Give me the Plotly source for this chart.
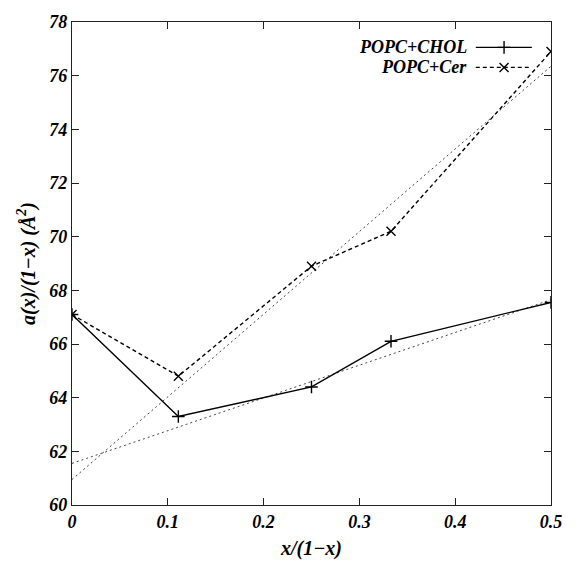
import plotly.graph_objects as go

# Data
x_vals = [0.0, 0.111, 0.25, 0.333, 0.5]
chol = [67.1, 63.3, 64.4, 66.1, 67.55]
cer = [67.1, 64.8, 68.9, 70.2, 76.9]
fit_x = [0.0, 0.5]
chol_fit = [61.55, 67.65]
cer_fit = [60.95, 76.35]
series_names = ["POPC+CHOL", "POPC+Cer"]

FONT = "Liberation Serif"

fig = go.Figure()

# fit lines
fig.add_trace(go.Scatter(x=fit_x, y=chol_fit, mode="lines",
                         line=dict(color="#444", width=1, dash="2px,3px"), showlegend=False))
fig.add_trace(go.Scatter(x=fit_x, y=cer_fit, mode="lines",
                         line=dict(color="#444", width=1, dash="2px,3px"), showlegend=False))

# data
fig.add_trace(go.Scatter(x=x_vals, y=chol, mode="lines+markers",
                         line=dict(color="black", width=1.4),
                         marker=dict(symbol="cross-thin", size=9, line=dict(color="black", width=1.4)),
                         showlegend=False))
fig.add_trace(go.Scatter(x=x_vals, y=cer, mode="lines+markers",
                         line=dict(color="black", width=1.4, dash="4px,3px"),
                         marker=dict(symbol="x-thin", size=9, line=dict(color="black", width=1.4)),
                         showlegend=False))

# legend samples (gnuplot style: text left, sample right) on overlay axes
leg_y = [0.9475, 0.906]
fig.add_trace(go.Scatter(x=[0.843, 0.960], y=[leg_y[0]] * 2, xaxis="x2", yaxis="y2",
                         mode="lines", line=dict(color="black", width=1.4), showlegend=False))
fig.add_trace(go.Scatter(x=[0.902], y=[leg_y[0]], xaxis="x2", yaxis="y2", mode="markers",
                         marker=dict(symbol="cross-thin", size=9, line=dict(color="black", width=1.4)),
                         showlegend=False))
fig.add_trace(go.Scatter(x=[0.843, 0.960], y=[leg_y[1]] * 2, xaxis="x2", yaxis="y2",
                         mode="lines", line=dict(color="black", width=1.4, dash="4px,3px"), showlegend=False))
fig.add_trace(go.Scatter(x=[0.902], y=[leg_y[1]], xaxis="x2", yaxis="y2", mode="markers",
                         marker=dict(symbol="x-thin", size=9, line=dict(color="black", width=1.4)),
                         showlegend=False))

for name, yy in zip(series_names, leg_y):
    fig.add_annotation(x=0.827, y=yy, xref="paper", yref="paper", text=name,
                       showarrow=False, xanchor="right", yanchor="middle", borderpad=0,
                       font=dict(family=FONT, size=18, color="black", weight="bold", style="italic"))

tickfont = dict(family=FONT, size=18, color="black", weight="bold", style="italic")
titlefont = dict(family=FONT, size=20, color="black", weight="bold", style="italic")

fig.update_layout(
    width=581, height=568,
    margin=dict(l=72, r=30, t=13, b=60),
    plot_bgcolor="white", paper_bgcolor="white",
    xaxis=dict(range=[0, 0.5], tickvals=[0, 0.1, 0.2, 0.3, 0.4, 0.5],
               ticktext=["0", "0.1", "0.2", "0.3", "0.4", "0.5"],
               showgrid=False, zeroline=False, showline=True, linecolor="#222", linewidth=1.4,
               mirror="ticks", ticks="inside", ticklen=7, tickcolor="#222",
               tickfont=tickfont,
               title=dict(text="x/(1−x)", font=titlefont, standoff=10)),
    yaxis=dict(range=[60, 78], dtick=2,
               showgrid=False, zeroline=False, showline=True, linecolor="#222", linewidth=1.4,
               mirror="ticks", ticks="inside", ticklen=7, tickcolor="#222",
               tickfont=tickfont,
               title=dict(text="a(x)/(1−x) (Å<sup>2</sup>)", font=titlefont, standoff=8)),
    xaxis2=dict(range=[0, 1], overlaying="x", visible=False),
    yaxis2=dict(range=[0, 1], overlaying="y", visible=False),
)

fig.write_html("out.html")
